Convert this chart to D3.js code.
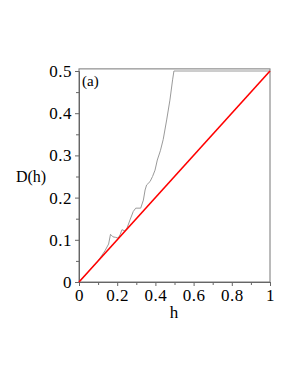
<!DOCTYPE html>
<html>
<head>
<meta charset="utf-8">
<script src="https://cdn.jsdelivr.net/npm/d3@7"></script>
<style>
  html, body { margin: 0; padding: 0; background: #fff; }
</style>
</head>
<body>
<svg id="chart" width="295" height="382"></svg>
<script>
// ====== Data ======
// curva gris D(h)
const hValues = [0, 0.05, 0.1, 0.136, 0.155, 0.165, 0.178, 0.19, 0.205, 0.215, 0.225, 0.24, 0.25,
  0.267, 0.284, 0.297, 0.323, 0.337, 0.346, 0.354, 0.372, 0.385, 0.398, 0.41, 0.426, 0.441,
  0.459, 0.476, 0.49, 0.497, 1];
const dValues = [0, 0.025, 0.05, 0.074, 0.09, 0.113, 0.107, 0.106, 0.104, 0.112, 0.124, 0.121, 0.126,
  0.147, 0.167, 0.175, 0.175, 0.194, 0.218, 0.23, 0.238, 0.25, 0.265, 0.289, 0.311, 0.338,
  0.384, 0.431, 0.479, 0.5, 0.5];
// recta roja D = h/2
const lineH = [0, 1];
const lineD = [0, 0.5];

const xTicks = [0, 0.2, 0.4, 0.6, 0.8, 1];
const yTicks = [0, 0.1, 0.2, 0.3, 0.4, 0.5];
const xMinor = [0.1, 0.3, 0.5, 0.7, 0.9];
const yMinor = [0.05, 0.15, 0.25, 0.35, 0.45];

const FONT = '"Liberation Serif", "Times New Roman", "DejaVu Serif", serif';

// ====== Layout ======
const svg = d3.select("#chart").attr("font-family", FONT);
const x = d3.scaleLinear().domain([0, 1]).range([79, 270]);
const y = d3.scaleLinear().domain([0, 0.5]).range([282, 71]);

// marco
svg.append("rect")
  .attr("x", x(0)).attr("y", y(0.505))
  .attr("width", x(1) - x(0)).attr("height", y(0) - y(0.505))
  .attr("fill", "none").attr("stroke", "#777").attr("stroke-width", 1);

// ejes
const fmt = d => d === 0 ? "0" : d === 1 ? "1" : d3.format(".1f")(d);

svg.append("g").attr("transform", `translate(0,${y(0)})`)
  .call(d3.axisBottom(x).tickValues(xTicks).tickFormat(fmt).tickSize(4).tickPadding(3));
svg.append("g").attr("transform", `translate(0,${y(0)})`)
  .call(d3.axisBottom(x).tickValues(xMinor).tickFormat("").tickSize(3))
  .select(".domain").remove();

svg.append("g").attr("transform", `translate(${x(0)},0)`)
  .call(d3.axisLeft(y).tickValues(yTicks).tickFormat(fmt).tickSize(4).tickPadding(3));
svg.append("g").attr("transform", `translate(${x(0)},0)`)
  .call(d3.axisLeft(y).tickValues(yMinor).tickFormat("").tickSize(3))
  .select(".domain").remove();

svg.selectAll("g").attr("font-family", FONT);
svg.selectAll(".domain").attr("stroke", "#666");
svg.selectAll(".tick line").attr("stroke", "#666");
svg.selectAll(".tick text")
  .attr("font-family", FONT)
  .attr("font-size", 17)
  .attr("letter-spacing", 0.5)
  .attr("fill", "#000");

// curvas
const gray = hValues.map((h, i) => [h, dValues[i]]);
const red = lineH.map((h, i) => [h, lineD[i]]);
const line = d3.line().x(d => x(d[0])).y(d => y(d[1]));

svg.append("path").datum(gray)
  .attr("d", line).attr("fill", "none")
  .attr("stroke", "#9a9a9a").attr("stroke-width", 1);

svg.append("path").datum(red)
  .attr("d", line).attr("fill", "none")
  .attr("stroke", "#ff0000").attr("stroke-width", 1.6);

// textos
svg.append("text").attr("x", 174).attr("y", 318)
  .attr("text-anchor", "middle").attr("font-size", 17).text("h");
svg.append("text").attr("x", 31).attr("y", 182)
  .attr("text-anchor", "middle").attr("font-size", 16).text("D(h)");
svg.append("text").attr("x", 82).attr("y", 86)
  .attr("font-size", 15).text("(a)");
</script>
</body>
</html>
